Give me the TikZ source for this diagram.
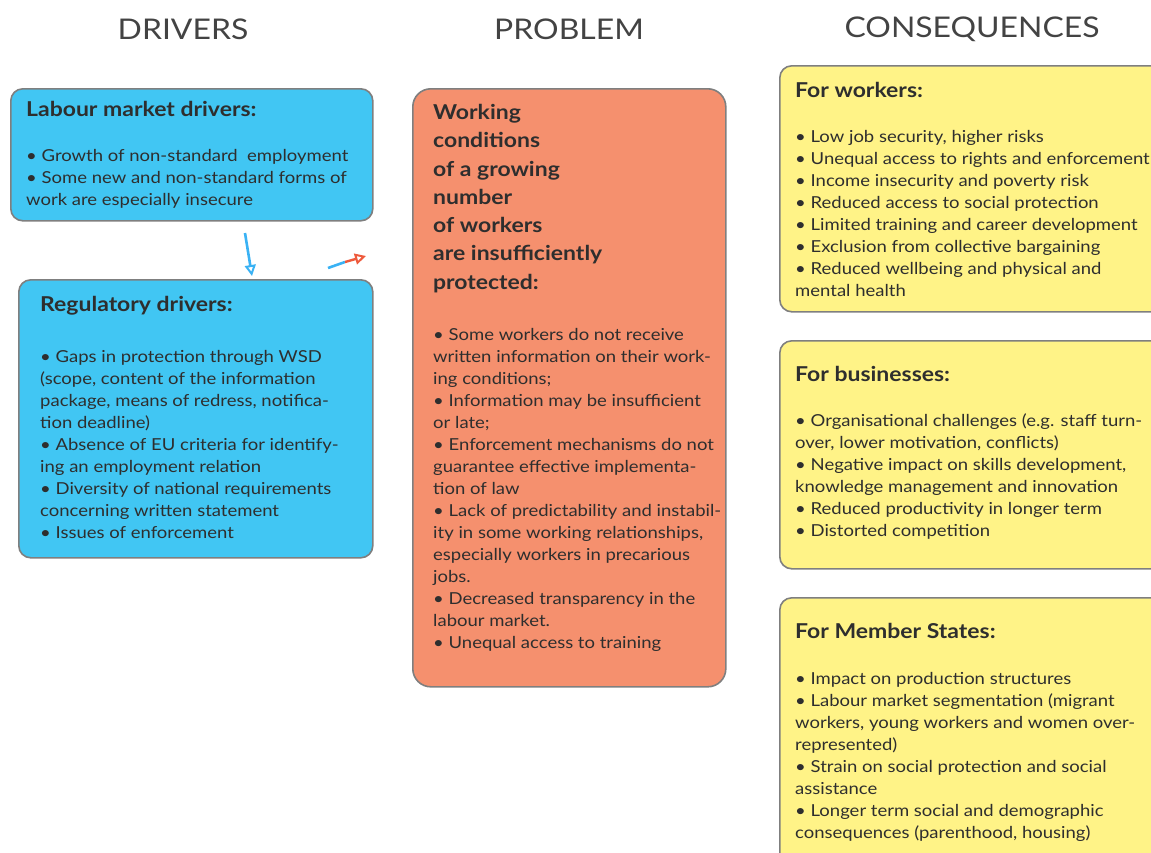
\documentclass[tikz,border=0pt]{standalone}
\usepackage{fontspec}
\setmainfont{Lato}[FakeStretch=1.12]
\usetikzlibrary{positioning,arrows.meta}
\definecolor{drvblue}{HTML}{41C6F3}
\definecolor{prbsalmon}{HTML}{F5906E}
\definecolor{cnsyellow}{HTML}{FFF387}
\definecolor{boxline}{HTML}{7F7F7F}
\definecolor{txtgray}{HTML}{2E2E2E}
\definecolor{tipred}{HTML}{EE5A3C}
\tikzset{
  box/.style={draw=boxline, line width=1.6pt, rounded corners=12pt, anchor=north west, inner sep=0pt},
  colhead/.style={font=\fontsize{28.5}{30}\selectfont, text=txtgray!90},
  boxhead/.style={font=\fontsize{20.5}{26}\selectfont\bfseries, text=txtgray, inner sep=0pt, align=left},
  boxtxt/.style={font=\fontsize{16.5}{22}\selectfont, text=txtgray, inner sep=0pt, align=left}
}
\begin{document}
\begin{tikzpicture}[x=1pt, y=-1pt]
  \useasboundingbox (0,0) rectangle (1151,852);
  % column titles
  \node[colhead] (drv) at (183,29) {DRIVERS};
  \node[colhead] (prb) at (569,29) {PROBLEM};
  \node[colhead] (cns) at (972,29) {CONSEQUENCES};

  % drivers
  \node[box, fill=drvblue, minimum width=362pt, minimum height=132pt] (labour) at (10,88) {};
  \node[boxhead, below right=13pt and 16pt of labour.north west] (labourhead) {Labour market drivers:};
  \node[boxtxt, below right=61pt and 16pt of labour.north west] (labourtxt)
    {• Growth of non-standard\ \ employment\\
     • Some new and non-standard forms of\\
     work are especially insecure};

  \node[box, fill=drvblue, minimum width=354pt, minimum height=278pt] (reg) at (18,279) {};
  \node[boxhead, below right=17pt and 22pt of reg.north west] (reghead) {Regulatory drivers:};
  \node[boxtxt, below right=71pt and 22pt of reg.north west] (regtxt)
    {• Gaps in protection through WSD\\
     (scope, content of the information\\
     package, means of redress, notifica-\\
     tion deadline)\\
     • Absence of EU criteria for identify-\\
     ing an employment relation\\
     • Diversity of national requirements\\
     concerning written statement\\
     • Issues of enforcement};

  % problem
  \node[box, fill=prbsalmon, rounded corners=18pt, minimum width=313pt, minimum height=598pt] (prob) at (412,88) {};
  \node[boxhead, font=\fontsize{20.5}{28.3}\selectfont\bfseries, below right=16pt and 21pt of prob.north west] (probhead)
    {Working\\ conditions\\ of a growing\\ number\\ of workers\\ are insufficiently\\ protected:};
  \node[boxtxt, below right=240pt and 21pt of prob.north west] (probtxt)
    {• Some workers do not receive\\
     written information on their work-\\
     ing conditions;\\
     • Information may be insufficient\\
     or late;\\
     • Enforcement mechanisms do not\\
     guarantee effective implementa-\\
     tion of law\\
     • Lack of predictability and instabil-\\
     ity in some working relationships,\\
     especially workers in precarious\\
     jobs.\\
     • Decreased transparency in the\\
     labour market.\\
     • Unequal access to training};

  % consequences
  \node[box, fill=cnsyellow, minimum width=400pt, minimum height=246pt] (wrk) at (779,65) {};
  \node[boxhead, below right=17pt and 16pt of wrk.north west] (wrkhead) {For workers:};
  \node[boxtxt, below right=65pt and 16pt of wrk.north west] (wrktxt)
    {• Low job security, higher risks\\
     • Unequal access to rights and enforcement\\
     • Income insecurity and poverty risk\\
     • Reduced access to social protection\\
     • Limited training and career development\\
     • Exclusion from collective bargaining\\
     • Reduced wellbeing and physical and\\
     mental health};

  \node[box, fill=cnsyellow, minimum width=400pt, minimum height=228pt] (bus) at (779,340) {};
  \node[boxhead, below right=26pt and 16pt of bus.north west] (bushead) {For businesses:};
  \node[boxtxt, below right=73pt and 16pt of bus.north west] (bustxt)
    {• Organisational challenges (e.g. staff turn-\\
     over, lower motivation, conflicts)\\
     • Negative impact on skills development,\\
     knowledge management and innovation\\
     • Reduced productivity in longer term\\
     • Distorted competition};

  \node[box, fill=cnsyellow, minimum width=400pt, minimum height=300pt] (mst) at (779,597) {};
  \node[boxhead, below right=26pt and 16pt of mst.north west] (msthead) {For Member States:};
  \node[boxtxt, below right=75pt and 16pt of mst.north west] (msttxt)
    {• Impact on production structures\\
     • Labour market segmentation (migrant\\
     workers, young workers and women over-\\
     represented)\\
     • Strain on social protection and social\\
     assistance\\
     • Longer term social and demographic\\
     consequences (parenthood, housing)};

  % small arrows
  \coordinate (blfrom) at (245,233);
  \coordinate (blto) at (252,276);
  \draw[drvblue!90!blue, line width=2.6pt, -{Triangle[open, length=11pt, width=11pt, line width=2pt]}] (blfrom) -- (blto);
  \coordinate (rdfrom) at (328,268);
  \coordinate (rdmid) at (345,262);
  \coordinate (rdto) at (366,256);
  \draw[drvblue!90!blue, line width=2.6pt] (rdfrom) -- (rdmid);
  \draw[tipred, line width=2.4pt, -{Triangle[open, length=11pt, width=11pt, line width=2pt]}] (rdmid) -- (rdto);
\end{tikzpicture}
\end{document}
